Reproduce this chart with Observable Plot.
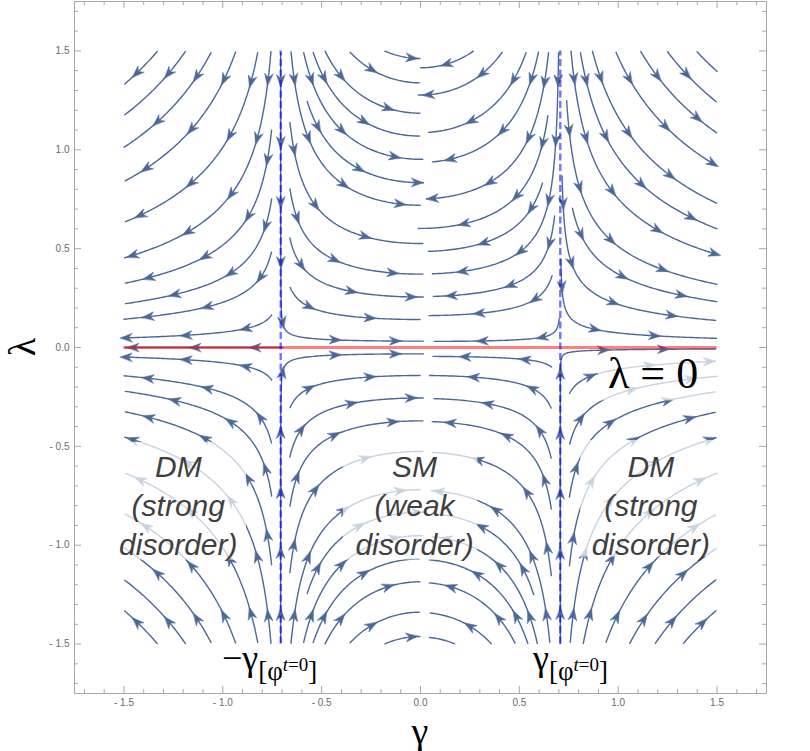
<!DOCTYPE html>
<html><head><meta charset="utf-8">
<script src="https://cdn.jsdelivr.net/npm/d3@7"></script>
<script src="https://cdn.jsdelivr.net/npm/@observablehq/plot@0.6"></script>
<style>body{margin:0;background:#fff;} svg{display:block;}</style>
</head><body><div id="chart"></div>
<script>
// ---------- data ----------
const xTicks = [-1.5, -1.0, -0.5, 0.0, 0.5, 1.0, 1.5];
const yTicks = [-1.5, -1.0, -0.5, 0.0, 0.5, 1.0, 1.5];
const criticalGamma = [-0.707, 0.707];      // ±γ[φ^t=0]
const fixedLambda = [0];                    // λ = 0 fixed line
const flowRange = [-1.5, 1.5];              // region covered by streamlines
const lambdaRate = 1.5;                     // relative strength of the λ flow
const fixedLineSeeds = [-1.1, -0.35];       // streamlines drawn along λ = 0
const regionLabels = ["DM\n(strong\ndisorder)", "SM\n(weak\ndisorder)", "DM\n(strong\ndisorder)"];
const regionGamma = [-1.225, -0.03, 1.165];
const regionLambda = [-0.79, -0.79, -0.79];

// ---------- vector field (RG flow) ----------
function F(g, l) { return [g * (2 * g * g - 1), -lambdaRate * l * g * g]; }
function dir(g, l) {
  const [a, b] = F(g, l); const m = Math.hypot(a, b);
  if (m < 1e-10) return null; return [a / m, b / m];
}

// ---------- evenly spaced streamlines ----------
const PX = 692 / 3.5;
const dsep = 23 / PX, dtest = 9 / PX, h = 2 / PX;
const [L0, L1] = flowRange;
const cell = dsep, grid = new Map();
const key = (i, j) => i + "," + j;
function addPt(x, y) {
  const k = key(Math.floor(x / cell), Math.floor(y / cell));
  if (!grid.has(k)) grid.set(k, []);
  grid.get(k).push([x, y]);
}
function near(x, y, r) {
  const i0 = Math.floor(x / cell), j0 = Math.floor(y / cell), n = Math.ceil(r / cell);
  for (let i = i0 - n; i <= i0 + n; i++) for (let j = j0 - n; j <= j0 + n; j++) {
    const a = grid.get(key(i, j)); if (!a) continue;
    for (const p of a) if ((p[0] - x) ** 2 + (p[1] - y) ** 2 < r * r) return true;
  }
  return false;
}
function trace(x, y, sign) {
  const pts = []; let pd = null;
  for (let i = 0; i < 4000; i++) {
    const d1 = dir(x, y); if (!d1) break;
    const d2 = dir(x + sign * h * 0.5 * d1[0], y + sign * h * 0.5 * d1[1]); if (!d2) break;
    if (pd && d2[0] * pd[0] + d2[1] * pd[1] < 0.8) break;
    const nx = x + sign * h * d2[0], ny = y + sign * h * d2[1];
    if (nx < L0 || nx > L1 || ny < L0 || ny > L1) break;
    if (near(nx, ny, dtest)) break;
    pts.push([nx, ny]); x = nx; y = ny; pd = d2;
  }
  return pts;
}
const lines = [];
function tryLine(x, y) {
  if (x < L0 || x > L1 || y < L0 || y > L1) return null;
  if (!dir(x, y) || near(x, y, dsep * 0.97)) return null;
  const back = trace(x, y, -1), fwd = trace(x, y, 1);
  const pts = back.reverse().concat([[x, y]], fwd);
  if (pts.length * h < 14 / PX) return null;
  pts.forEach(p => addPt(p[0], p[1]));
  lines.push(pts); return pts;
}
function grow(queue) {
  while (queue.length) {
    const pts = queue.shift();
    for (let k = 0; k < pts.length - 1; k += 6) {
      const [x0, y0] = pts[k], [x1, y1] = pts[k + 1];
      const m = Math.hypot(x1 - x0, y1 - y0); if (!m) continue;
      const nx = -(y1 - y0) / m, ny = (x1 - x0) / m;
      for (const s of [1, -1]) {
        const r = tryLine(x0 + s * dsep * nx, y0 + s * dsep * ny);
        if (r) queue.push(r);
      }
    }
  }
}
for (const g of fixedLineSeeds) { const r = tryLine(g, fixedLambda[0]); if (r) grow([r]); }
for (let gy = L1 - 0.05; gy >= L0; gy -= dsep) for (let gx = L0 + 0.05; gx <= L1; gx += dsep) {
  const r = tryLine(gx, gy); if (r) grow([r]);
}

const streamData = [], arrowData = [];
lines.forEach((pts, id) => {
  pts.forEach(p => streamData.push({id, x: p[0], y: p[1]}));
  let s = 0; const spacing = 60 / PX; let next = 28 / PX;
  for (let i = 1; i < pts.length; i++) {
    const dx = pts[i][0] - pts[i - 1][0], dy = pts[i][1] - pts[i - 1][1];
    s += Math.hypot(dx, dy);
    if (s >= next && s < pts.length * h - 4 / PX) {
      arrowData.push({x: pts[i][0], y: pts[i][1], rotate: Math.atan2(dx, dy) * 180 / Math.PI});
      next += spacing;
    }
  }
});

const dart = {
  draw(ctx, l) {
    ctx.moveTo(0, -l); ctx.lineTo(4.3, 0); ctx.lineTo(0, -l * 0.3); ctx.lineTo(-4.3, 0); ctx.closePath();
  }
};
const streamColor = "#4a6898";
const fmt = d => (d < 0 ? "- " : "") + Math.abs(d).toFixed(1);
const k = 3.5 / 692;
const minor = d3.range(-17, 18).map(i => i / 10);
const isMajor = d => Math.abs(d * 2 - Math.round(d * 2)) < 1e-9;
const tickLen = d => (isMajor(d) ? 7 : 4) * k;

// faded boxes behind labels (data coordinates)
const boxes = [
  {x1: -1.545, x2: -0.88, y1: -0.48, y2: -1.075},
  {x1: -0.39, x2: 0.29, y1: -0.49, y2: -1.075},
  {x1: 0.81, x2: 1.52, y1: -0.47, y2: -1.06},
  {x1: 0.9, x2: 1.52, y1: -0.04, y2: -0.27}
];

const plot = Plot.plot({
  width: 810, height: 751,
  marginLeft: 74, marginRight: 44, marginTop: 1, marginBottom: 58,
  style: {fontFamily: "Liberation Sans, Arial, sans-serif", fontSize: "10px", color: "#6a6a6a", background: "white"},
  x: {domain: [-1.75, 1.75], label: null},
  y: {domain: [-1.75, 1.75], label: null},
  marks: [
    Plot.line(streamData, {x: "x", y: "y", z: "id", stroke: streamColor, strokeWidth: 1.4}),
    Plot.vector(arrowData, {x: "x", y: "y", rotate: "rotate", length: 12, anchor: "middle", shape: dart, fill: streamColor, stroke: streamColor, strokeWidth: 0.5}),
    Plot.rect(boxes, {x1: "x1", x2: "x2", y1: "y1", y2: "y2", fill: "white", fillOpacity: 0.7}),
    Plot.ruleY(fixedLambda, {x1: flowRange[0], x2: flowRange[1], stroke: "red", strokeOpacity: 0.5, strokeWidth: 3}),
    Plot.ruleX(criticalGamma, {y1: flowRange[0], y2: flowRange[1], stroke: "blue", strokeOpacity: 0.55, strokeWidth: 2.4, strokeDasharray: "7,3.5"}),
    Plot.frame({stroke: "#a8a8a8"}),
    Plot.ruleX(minor, {x: d => d, y1: -1.75, y2: d => -1.75 + tickLen(d), stroke: "#a8a8a8"}),
    Plot.ruleX(minor, {x: d => d, y1: 1.75, y2: d => 1.75 - tickLen(d), stroke: "#a8a8a8"}),
    Plot.ruleY(minor, {y: d => d, x1: -1.75, x2: d => -1.75 + tickLen(d), stroke: "#a8a8a8"}),
    Plot.ruleY(minor, {y: d => d, x1: 1.75, x2: d => 1.75 - tickLen(d), stroke: "#a8a8a8"}),
    Plot.axisX({ticks: xTicks, tickFormat: fmt, tickSize: 0, tickPadding: 5}),
    Plot.axisY({ticks: yTicks, tickFormat: fmt, tickSize: 0, tickPadding: 5}),
    Plot.text(regionLabels.map((t, i) => ({t, x: regionGamma[i], y: regionLambda[i]})),
      {x: "x", y: "y", text: "t", fontSize: 30, fontStyle: "italic", fill: "#3f3f3f", lineHeight: 1.3,
       fontFamily: "Liberation Sans, Arial, sans-serif", textAnchor: "middle", lineAnchor: "middle"})
  ]
});
document.getElementById("chart").appendChild(plot);

// math labels placed through the scales
const sx = plot.scale("x"), sy = plot.scale("y");
const svg = d3.select(plot);
const serif = "Liberation Serif, Times New Roman, serif";
svg.append("text").attr("x", sx.apply(0.951)).attr("y", 388).attr("font-family", serif)
  .attr("text-anchor", "start").attr("font-size", 44).attr("fill", "#000")
  .text("λ = 0");
function gammaLabel(xpos, neg) {
  const t = svg.append("text").attr("x", xpos).attr("y", 670).attr("font-family", serif)
    .attr("text-anchor", "start").attr("fill", "#000");
  t.append("tspan").attr("font-size", 36).text((neg ? "−" : "") + "γ");
  t.append("tspan").attr("font-size", 27).attr("dy", 10).text("[φ");
  t.append("tspan").attr("font-size", 19).attr("font-style", "italic").attr("dy", -9).text("t");
  t.append("tspan").attr("font-size", 19).text("=0");
  t.append("tspan").attr("font-size", 27).attr("dy", 9).text("]");
}
gammaLabel(222, true);
gammaLabel(533, false);
svg.append("text").attr("x", sx.apply(0)).attr("y", 744).attr("text-anchor", "middle")
  .attr("font-family", serif).attr("font-size", 38).attr("fill", "#000").text("γ");
svg.append("text").attr("transform", `translate(35,${sy.apply(0)}) rotate(-90)`).attr("text-anchor", "middle")
  .attr("font-family", serif).attr("font-size", 38).attr("fill", "#000").text("λ");
</script>
</body></html>
